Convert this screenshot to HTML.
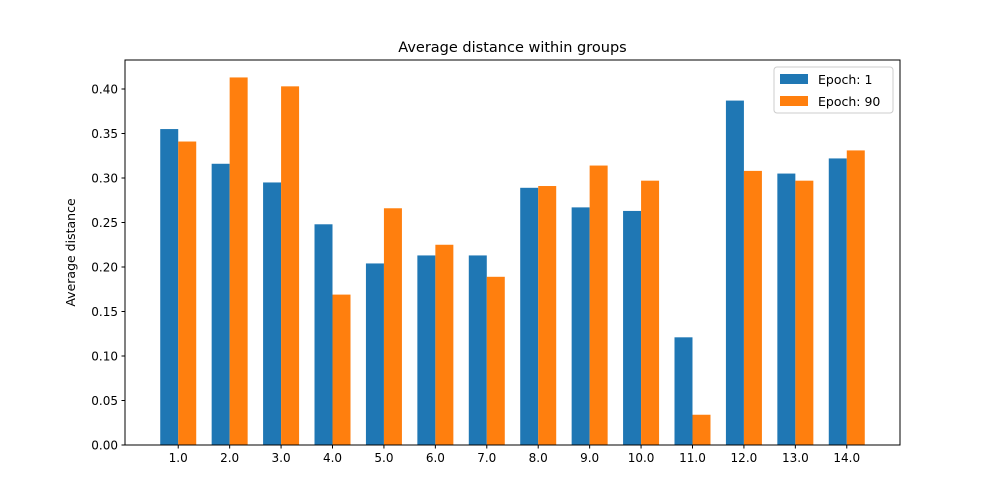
<!DOCTYPE html>
<html><head><meta charset="utf-8"><style>
html,body{margin:0;padding:0;background:#fff;}
svg{display:block;font-family:"DejaVu Sans","Liberation Sans",sans-serif;}
</style></head><body>
<svg id="chart" width="1000" height="500"></svg>
<script>
const categories=["1.0","2.0","3.0","4.0","5.0","6.0","7.0","8.0","9.0","10.0","11.0","12.0","13.0","14.0"];
const epoch1=[0.355,0.316,0.295,0.248,0.204,0.213,0.213,0.289,0.267,0.263,0.121,0.387,0.305,0.322];
const epoch90=[0.341,0.413,0.403,0.169,0.266,0.225,0.189,0.291,0.314,0.297,0.034,0.308,0.297,0.331];
const yTicks=[0,0.05,0.10,0.15,0.20,0.25,0.30,0.35,0.40];
const seriesNames=["Epoch: 1","Epoch: 90"];

const svg=document.getElementById('chart');
const NS='http://www.w3.org/2000/svg';
const L=125,R=900,T=60,B=445;
const n=categories.length;
const w=0.35;
const xmin=1-w-0.05*(n-1+2*w), xmax=n+w+0.05*(n-1+2*w);
const yMax=0.4326;
const xs=v=>L+(v-xmin)/(xmax-xmin)*(R-L);
const ys=v=>B-v/yMax*(B-T);
function mk(tag,attrs,parent){const e=document.createElementNS(NS,tag);for(const k in attrs)e.setAttribute(k,attrs[k]);(parent||svg).appendChild(e);return e;}

const colors=["#1f77b4","#ff7f0e"];
[epoch1,epoch90].forEach((arr,s)=>{
  arr.forEach((v,i)=>{
    const x0=xs(i+1+(s===0?-w:0)), x1=xs(i+1+(s===0?0:w));
    const r=mk('rect',{x:x0,y:ys(v),width:x1-x0,height:ys(0)-ys(v),fill:colors[s]});
    
    
  });
});
const frame=mk('rect',{x:L,y:T,width:R-L,height:B-T,fill:'none',stroke:'#000','stroke-width':1});



categories.forEach((c,i)=>{
  const x=xs(i+1);
  mk('line',{x1:x,x2:x,y1:B,y2:B+3.5,stroke:'#000'});
  const t=mk('text',{x:x,y:B+17,'font-size':12,'text-anchor':'middle'});
  t.textContent=c;
  
  
});
yTicks.forEach(v=>{
  const y=ys(v);
  mk('line',{x1:L-3.5,x2:L,y1:y,y2:y,stroke:'#000'});
  const t=mk('text',{x:L-7,y:y+4.5,'font-size':12,'text-anchor':'end'});
  t.textContent=v.toFixed(2);
  
  
});
const title=mk('text',{x:(L+R)/2,y:52,'font-size':14.5,'text-anchor':'middle'});
title.textContent='Average distance within groups';


const yt=mk('text',{x:0,y:0,'font-size':12.5,'text-anchor':'middle',transform:`translate(75,${(T+B)/2}) rotate(-90)`});
yt.textContent='Average distance';



const lg=mk('g',{});


mk('rect',{x:774,y:67,width:119,height:46,rx:3,fill:'#fff',stroke:'#ccc'},lg);
seriesNames.forEach((s,i)=>{
  const y=74+i*22;
  const sw=mk('rect',{x:780,y:y,width:28,height:10,fill:colors[i]},lg);
  
  
  const t=mk('text',{x:818,y:y+10,'font-size':12.5},lg);
  t.textContent=s;
  
  
});
</script>
</body></html>
